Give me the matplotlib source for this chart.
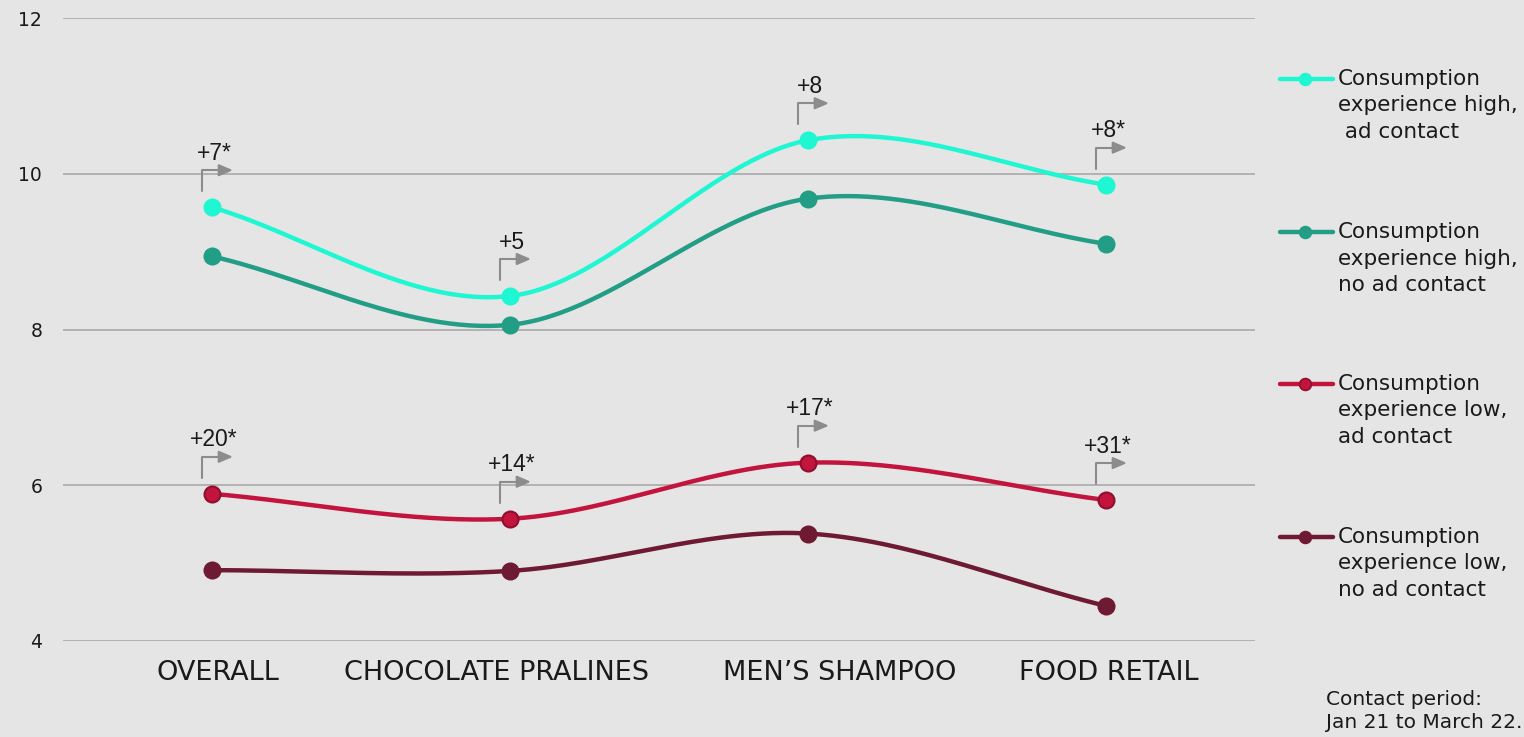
import numpy as np
import matplotlib
matplotlib.use("Agg")
import matplotlib.pyplot as plt
from matplotlib.transforms import offset_copy, ScaledTranslation

# ---------------- data ----------------
categories = ["OVERALL", "CHOCOLATE PRALINES", "MEN\u2019S SHAMPOO", "FOOD RETAIL"]
high_ad = [9.57, 8.43, 10.43, 9.86]
high_no_ad = [8.94, 8.06, 9.68, 9.10]
low_ad = [5.89, 5.57, 6.29, 5.81]
low_no_ad = [4.91, 4.90, 5.38, 4.45]
series_labels = [
    "Consumption\nexperience high,\n ad contact",
    "Consumption\nexperience high,\nno ad contact",
    "Consumption\nexperience low,\nad contact",
    "Consumption\nexperience low,\nno ad contact",
]
uplift_high = ["+7*", "+5", "+8", "+8*"]
uplift_low = ["+20*", "+14*", "+17*", "+31*"]
yticks = [4, 6, 8, 10, 12]
footnote = "Contact period:\nJan 21 to March 22."

# ---------------- style ----------------
BG = "#E5E5E5"
colors = ["#1FF7D2", "#229D86", "#C2143D", "#6E1A33"]
edgecolors = ["#1FF7D2", "#229D86", "#8E0F2E", "#6E1A33"]
FONT = "DejaVu Sans"
TXT = "#1a1a1a"
label_shift_px = [6, -13, 32, 3]   # small horizontal nudges of category labels

fig = plt.figure(figsize=(15.24, 7.37), dpi=100, facecolor=BG)
W, H = 1524, 737
ax = fig.add_axes([63 / W, (H - 641) / H, (1255 - 63) / W, (641 - 18) / H])
ax.set_facecolor(BG)


def smooth(y, n=60):
    """Catmull-Rom style curve through the points (for drawing only)."""
    y = np.asarray(y, float)
    x = np.arange(len(y), dtype=float)
    m = np.empty_like(y)
    m[1:-1] = (y[2:] - y[:-2]) / 2.0
    m[0] = y[1] - y[0]
    m[-1] = y[-1] - y[-2]
    xs, ys = [], []
    for i in range(len(y) - 1):
        t = np.linspace(0, 1, n)
        h00 = 2 * t**3 - 3 * t**2 + 1
        h10 = t**3 - 2 * t**2 + t
        h01 = -2 * t**3 + 3 * t**2
        h11 = t**3 - t**2
        xs.append(x[i] + t)
        ys.append(h00 * y[i] + h10 * m[i] + h01 * y[i + 1] + h11 * m[i + 1])
    return np.concatenate(xs), np.concatenate(ys)


all_series = [high_ad, high_no_ad, low_ad, low_no_ad]
x = np.arange(len(categories))
for s, c, ec in zip(all_series, colors, edgecolors):
    sx, sy = smooth(s)
    ax.plot(sx, sy, color=c, lw=3.2, solid_capstyle="round", zorder=3)
    ax.plot(x, s, "o", color=c, markersize=11.5, markeredgecolor=ec,
            markeredgewidth=1.5, zorder=4)

ax.set_xlim(-0.5, 3.5)
ax.set_ylim(4, 12)
ax.set_yticks(yticks)
ax.set_xticks(x)
ax.set_xticklabels(categories, fontsize=19.5, family=FONT, color=TXT)
ax.tick_params(axis="both", length=0)
ax.tick_params(axis="y", pad=15, labelsize=13.5, labelcolor=TXT)
ax.tick_params(axis="x", pad=14)
for lab in ax.get_yticklabels():
    lab.set_family(FONT)
for lab, dx in zip(ax.get_xticklabels(), label_shift_px):
    lab.set_transform(lab.get_transform() + ScaledTranslation(dx / 100, 0, fig.dpi_scale_trans))
ax.grid(axis="y", color="#AAAAAA", lw=1.2)
ax.set_axisbelow(True)
for sp in ax.spines.values():
    sp.set_visible(False)

# ---------------- uplift annotations ----------------
def add_uplift(i, v, label):
    start = offset_copy(ax.transData, fig=fig, x=-10, y=16, units="dots")
    end = offset_copy(ax.transData, fig=fig, x=21, y=37, units="dots")
    ax.annotate("", xy=(i, v), xycoords=end, xytext=(i, v), textcoords=start,
                arrowprops=dict(arrowstyle="-|>,head_length=0.7,head_width=0.3",
                                connectionstyle="angle,angleA=90,angleB=0,rad=0",
                                color="#8C8C8C", lw=1.5, shrinkA=0, shrinkB=0,
                                mutation_scale=12), zorder=5)
    ttr = offset_copy(ax.transData, fig=fig, x=2, y=54, units="dots")
    ax.text(i, v, label, transform=ttr, ha="center", va="center",
            fontsize=16.5, family="Liberation Sans", color=TXT)


for i in range(len(categories)):
    add_uplift(i, high_ad[i], uplift_high[i])
    add_uplift(i, low_ad[i], uplift_low[i])

# ---------------- legend (manual) ----------------
legend_y = [0.902, 0.656, 0.4125, 0.167]
for ly, c, ec, lab in zip(legend_y, colors, edgecolors, series_labels):
    ax.plot([1.021, 1.0654], [ly, ly], transform=ax.transAxes, color=c, lw=3.2,
            solid_capstyle="round", clip_on=False)
    ax.plot([1.042], [ly], "o", transform=ax.transAxes, color=c, markersize=8.5,
            markeredgecolor=ec, markeredgewidth=1.2, clip_on=False)
    ttr = offset_copy(ax.transAxes, fig=fig, x=0, y=10, units="dots")
    ax.text(1.0696, ly, lab, transform=ttr, ha="left", va="top",
            fontsize=15.5, family=FONT, color=TXT, linespacing=1.4)

fig.text(1326 / W, 1 - 690 / H, footnote, ha="left", va="top",
         fontsize=14.5, family=FONT, color=TXT, linespacing=1.3)

fig.savefig("out.png", dpi=100, facecolor=BG)
